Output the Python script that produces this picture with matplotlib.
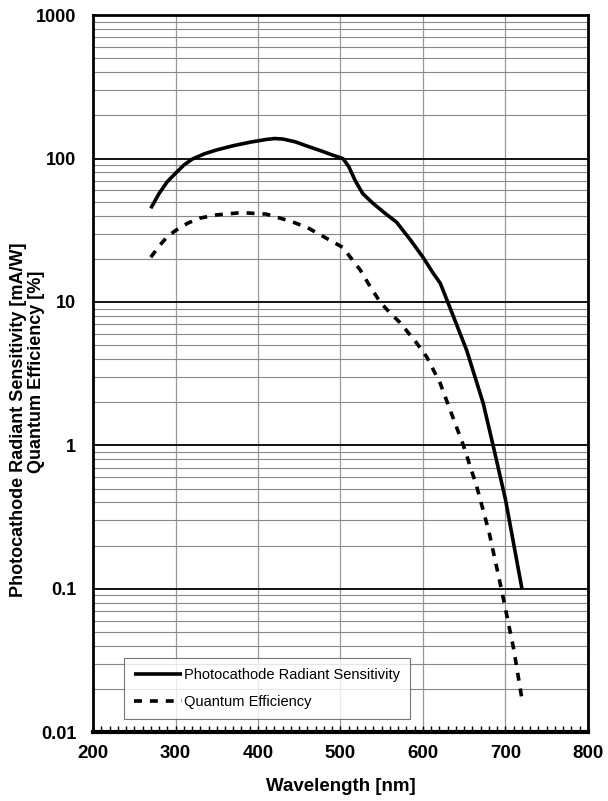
import numpy as np
import matplotlib
matplotlib.use("Agg")
import matplotlib.pyplot as plt
from matplotlib.ticker import FixedLocator, NullFormatter

plt.rcParams['font.family'] = ['Liberation Sans', 'DejaVu Sans']

# wavelength [nm] and values
wl_sens = [270, 280, 290, 300, 310, 320, 335, 350, 370, 390, 410, 420, 430, 445,
           460, 475, 490, 503, 510, 518, 527, 539, 553, 568, 585, 600, 612,
           621, 630, 653, 673, 685, 700, 720]
sens = [45, 57, 69, 79, 90, 99, 108, 115, 123, 130, 136, 138, 137, 131,
        122, 114, 106, 100, 88, 70, 57, 49, 42, 36, 27, 20.5, 16,
        13.5, 10, 4.6, 1.97, 1.0, 0.42, 0.1]

wl_qe = [270, 280, 290, 300, 315, 330, 350, 380, 410, 440, 460, 487, 503,
         512, 524, 536, 548, 560, 572, 592, 605, 621, 633, 649, 665, 680,
         695, 710, 720]
qe = [20.5, 24.5, 28.5, 31.5, 35.5, 38.5, 40.5, 42, 41, 36.5, 33, 27, 24,
      20.5, 16.7, 12.8, 10, 8.4, 7.2, 5.2, 4.1, 2.7, 1.76, 1.0, 0.52, 0.25,
      0.1, 0.038, 0.017]

fig = plt.figure(figsize=(6.08, 8.01), dpi=100)
ax = fig.add_axes([0.153, 0.086, 0.814, 0.895])

ax.plot(wl_sens, sens, color='black', lw=2.6, solid_capstyle='butt',
        label='Photocathode Radiant Sensitivity')
ax.plot(wl_qe, qe, color='black', lw=2.6, ls=(0, (2.2, 2.2)),
        label='Quantum Efficiency')

ax.set_yscale('log')
ax.set_xlim(200, 800)
ax.set_ylim(0.01, 1000)

ax.set_xticks(range(200, 801, 100))
ax.xaxis.set_minor_locator(FixedLocator(range(200, 801, 10)))
ax.set_yticks([0.01, 0.1, 1, 10, 100, 1000])
ax.set_yticklabels(['0.01', '0.1', '1', '10', '100', '1000'])
minor_y = [m * 10.0 ** e for e in range(-2, 3) for m in range(2, 10)]
ax.yaxis.set_minor_locator(FixedLocator(minor_y))
ax.yaxis.set_minor_formatter(NullFormatter())

# grid
ax.grid(True, which='major', axis='x', color='#999999', lw=0.9)
ax.grid(True, which='minor', axis='y', color='#888888', lw=0.8)
ax.grid(True, which='major', axis='y', color='black', lw=1.3)
ax.set_axisbelow(True)

ax.tick_params(axis='x', which='minor', direction='in', length=4, width=1, top=False)
ax.tick_params(axis='x', which='major', direction='in', length=4, width=1)
ax.tick_params(axis='y', which='both', length=0)
ax.tick_params(axis='x', which='major', labelsize=13.5, pad=9)
ax.tick_params(axis='y', which='major', labelsize=13, pad=12)
for lab in ax.get_xticklabels() + ax.get_yticklabels():
    lab.set_fontweight('bold')

for s in ['left', 'top', 'right']:
    ax.spines[s].set_linewidth(2)
ax.spines['bottom'].set_linewidth(3)

ax.set_xlabel('Wavelength [nm]', fontsize=13.5, fontweight='bold', labelpad=12)
fig.text(19 / 608, 1 - 420 / 801, 'Photocathode Radiant Sensitivity [mA/W]',
         rotation=90, ha='center', va='center', fontsize=13, fontweight='bold')
fig.text(37 / 608, 1 - 372 / 801, 'Quantum Efficiency [%]',
         rotation=90, ha='center', va='center', fontsize=13, fontweight='bold')

leg = ax.legend(loc='lower left', bbox_to_anchor=(0.062, 0.018), fontsize=10.5,
                frameon=True, fancybox=False, edgecolor='#555555',
                handlelength=3.3, handletextpad=0.15, borderpad=0.7,
                labelspacing=0.9, borderaxespad=0)
leg.get_frame().set_linewidth(0.8)

fig.savefig('out.png', dpi=100)
